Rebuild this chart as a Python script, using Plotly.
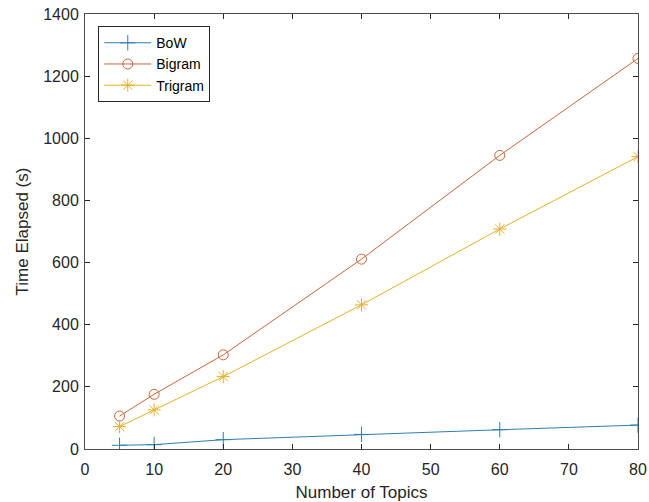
import plotly.graph_objects as go

topics = [5, 10, 20, 40, 60, 80]
bow = [12, 14, 30, 47, 62, 77]
bigram = [106, 176, 303, 611, 945, 1257]
trigram = [72, 126, 233, 464, 708, 941]

x_ticks = [0, 10, 20, 30, 40, 50, 60, 70, 80]
y_ticks = [0, 200, 400, 600, 800, 1000, 1200, 1400]

series = [
    ("BoW", bow, "#2b7fb0", "cross-thin-open", 11),
    ("Bigram", bigram, "#c8643a", "circle-open", 10),
    ("Trigram", trigram, "#e6b02a", "asterisk-open", 11),
]

fig = go.Figure()
for name, ys, color, sym, sz in series:
    fig.add_trace(go.Scatter(
        x=topics, y=ys, name=name, mode="lines+markers",
        line=dict(color=color, width=1),
        marker=dict(symbol=sym, size=sz, color=color, line=dict(color=color, width=1)),
    ))

font_fam = "Liberation Sans, Arial, sans-serif"
axis_common = dict(
    showgrid=False, zeroline=False, showline=True, linecolor="#4d4d4d", linewidth=1,
    mirror="ticks", ticks="inside", ticklen=5, tickcolor="#262626",
    tickfont=dict(family=font_fam, size=16, color="#262626"),
    automargin=False,
)

fig.update_layout(
    width=649, height=502,
    margin=dict(l=85, r=11, t=14, b=53),
    paper_bgcolor="white", plot_bgcolor="white",
    font=dict(family=font_fam, color="#262626"),
    xaxis=dict(range=[0, 80], tickvals=x_ticks, ticklabelstandoff=6,
               title=dict(text="Number of Topics", font=dict(size=17), standoff=8),
               **axis_common),
    yaxis=dict(range=[0, 1400], tickvals=y_ticks, ticklabelstandoff=2,
               title=dict(text="Time Elapsed (s)", font=dict(size=17), standoff=10),
               **axis_common),
    legend=dict(x=0.024, y=0.972, xanchor="left", yanchor="top",
                bgcolor="white", bordercolor="#262626", borderwidth=1,
                font=dict(family=font_fam, size=14, color="#000000"), tracegroupgap=0,
                itemwidth=47),
    showlegend=True,
)

fig.write_html("out.html")
